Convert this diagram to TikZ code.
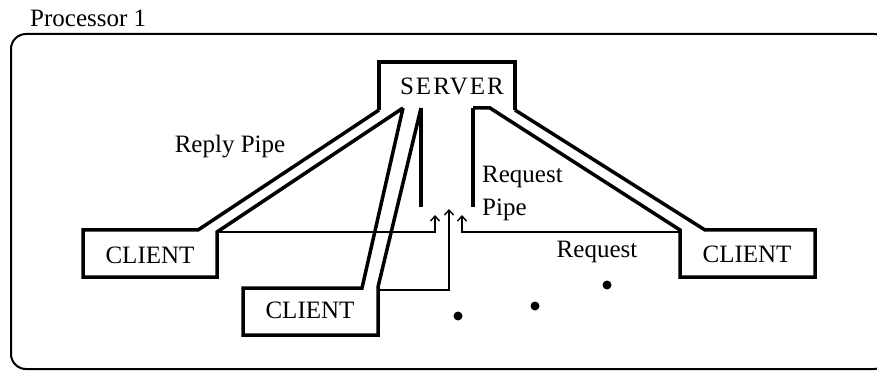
\documentclass[tikz,border=0pt]{standalone}
\usepackage{fontspec}
\setmainfont{Liberation Serif}
\usetikzlibrary{arrows.meta}

\begin{document}
\begin{tikzpicture}[x=1pt, y=-1pt,
    pipe/.style={line width=3.5pt, line join=miter},
    req/.style={line width=1.4pt, -{Straight Barb[length=5pt, width=9pt]}},
    lbl/.style={font=\fontsize{25}{28}\selectfont, inner sep=0pt}]

    \useasboundingbox (0,0) rectangle (877,371);
    \clip (0,0) rectangle (877,371);

    % =================================================================
    % 1. MAIN POINTS
    % =================================================================
    \coordinate (SrvL) at (379,110);
    \coordinate (SrvR) at (515,110);
    \coordinate (PipeA) at (403,108);
    \coordinate (PipeB) at (421,108);
    \coordinate (PipeC) at (473,108);
    \coordinate (PipeD) at (490,108);

    % request pipe ends and arrow tips
    \coordinate (StubL) at (421,207);
    \coordinate (StubR) at (473,207);
    \coordinate (TipL) at (435,215);
    \coordinate (TipM) at (449,209);
    \coordinate (TipR) at (462,215);

    % =================================================================
    % 2. PROCESSOR FRAME
    % =================================================================
    \draw[line width=2pt, rounded corners=15pt] (11,34) rectangle (889,369);
    \node[lbl, anchor=base west] (proc) at (30,27) {Processor 1};

    % =================================================================
    % 3. SERVER AND THE CLIENTS WITH THEIR REPLY PIPES
    % =================================================================
    \draw[pipe] (SrvL) -- (379,62) -- (515,62) -- (SrvR);
    \node[lbl, anchor=base] (server) at (452,95)
        {\addfontfeature{LetterSpace=8}SERVER};

    % left client
    \draw[pipe] (SrvL) -- (198,230) -- (83,230) -- (83,277)
        -- (217,277) -- (217,232) coordinate (ClA) -- (PipeA);
    \node[lbl, anchor=base] (client1) at (150,263) {CLIENT};

    % lower client
    \draw[pipe] (PipeA) -- (362,288) -- (243,288) -- (243,335)
        -- (378,335) -- (378,287) coordinate (ClB) -- (PipeB);
    \node[lbl, anchor=base] (client2) at (310,318) {CLIENT};

    % right client
    \draw[pipe] (SrvR) -- (705,230) -- (815,230) -- (815,277)
        -- (680,277) -- (680,230) coordinate (ClC) -- (PipeD) -- (PipeC);
    \node[lbl, anchor=base] (client3) at (747,262) {CLIENT};

    % request pipe
    \draw[pipe] (PipeB) -- (StubL);
    \draw[pipe] (PipeC) -- (StubR);

    % =================================================================
    % 4. REQUESTS
    % =================================================================
    \draw[req] (217,232) -| (TipL);
    \draw[req] (378,290) -| (TipM);
    \draw[req] (680,232) -| (TipR);

    \foreach \p in {(607,285), (535,306), (458,316)}
        \fill \p circle (4.5);

    % =================================================================
    % 5. LABELS
    % =================================================================
    \node[lbl, anchor=base] (reply) at (230,153) {Reply Pipe};
    \node[lbl, anchor=base west] (reqpipe) at (482,183) {Request};
    \node[lbl, anchor=base west] (reqpipe2) at (482,215) {Pipe};
    \node[lbl, anchor=base] (request) at (597,257) {Request};

\end{tikzpicture}
\end{document}
